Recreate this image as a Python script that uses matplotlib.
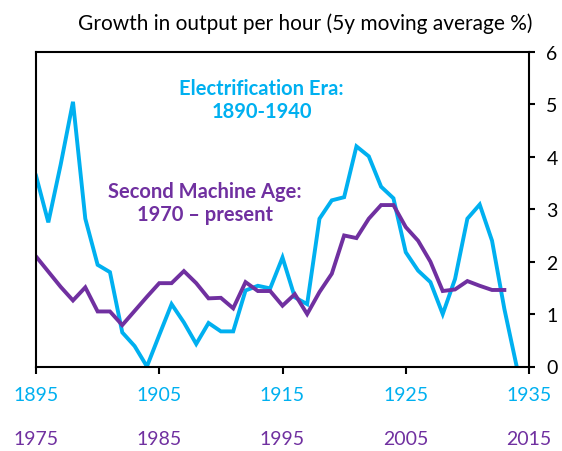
import numpy as np
import matplotlib.pyplot as plt

plt.rcParams['font.family'] = ['Lato', 'DejaVu Sans']

BLUE = '#00B0F0'
PURPLE = '#7030A0'

# electrification era, 5y moving average of output per hour growth (%)
elec_years = np.arange(1895, 1935)
elec_growth = [3.64, 2.75, 3.85, 5.05, 2.82, 1.94, 1.80, 0.65, 0.39, 0.00,
               0.60, 1.19, 0.84, 0.43, 0.83, 0.67, 0.67, 1.45, 1.54, 1.49,
               2.08, 1.32, 1.19, 2.82, 3.17, 3.23, 4.20, 4.01, 3.43, 3.21,
               2.18, 1.83, 1.61, 1.00, 1.67, 2.82, 3.09, 2.40, 1.10, 0.00]

# second machine age
sma_years = np.arange(1975, 2014)
sma_growth = [2.10, 1.81, 1.52, 1.26, 1.51, 1.05, 1.05, 0.79, 1.06, 1.33,
              1.59, 1.59, 1.82, 1.59, 1.30, 1.31, 1.11, 1.61, 1.44, 1.44,
              1.16, 1.38, 1.00, 1.42, 1.77, 2.50, 2.45, 2.82, 3.08, 3.08,
              2.66, 2.40, 2.00, 1.44, 1.47, 1.63, 1.54, 1.46, 1.46]

offset = 80  # 1975 lines up with 1895
elec_ticks = [1895, 1905, 1915, 1925, 1935]
sma_ticks = [1975, 1985, 1995, 2005, 2015]

fig = plt.figure(figsize=(5.62, 4.52), dpi=100)
ax = fig.add_axes([36 / 562, 84.5 / 452, 493 / 562, 314.5 / 452])

ax.plot(elec_years, elec_growth, color=BLUE, lw=2.8, solid_joinstyle='miter')
ax.plot(sma_years - offset, sma_growth, color=PURPLE, lw=2.8, solid_joinstyle='miter')

ax.set_xlim(1895, 1935)
ax.set_ylim(0, 6)
for s in ax.spines.values():
    s.set_linewidth(1.5)

ax.yaxis.tick_right()
ax.set_yticks(range(0, 7))
ax.tick_params(axis='y', which='both', left=False, right=True, direction='out',
               length=4.5, width=1.5, pad=8, labelsize=14)
ax.set_xticks(elec_ticks)
ax.tick_params(axis='x', direction='out', length=5, width=1.5, pad=9,
               labelsize=14, labelcolor=BLUE)

sec = ax.secondary_xaxis('bottom', functions=(lambda x: x + offset, lambda x: x - offset))
sec.set_xticks(sma_ticks)
sec.tick_params(axis='x', length=0, pad=46, labelsize=14, labelcolor=PURPLE)
sec.spines['bottom'].set_visible(False)

ax.text(1913.3, 5.1, 'Electrification Era:\n1890-1940', color=BLUE, fontsize=14.5,
        fontweight='bold', ha='center', va='center', linespacing=1.2)
ax.text(1908.7, 3.13, 'Second Machine Age:\n1970 \u2013 present', color=PURPLE,
        fontsize=14.5, fontweight='bold', ha='center', va='center', linespacing=1.2)

fig.text(532 / 562, 1 - 24 / 452, 'Growth in output per hour (5y moving average %)',
         ha='right', va='center', fontsize=15)

fig.savefig('out.png', dpi=100)
